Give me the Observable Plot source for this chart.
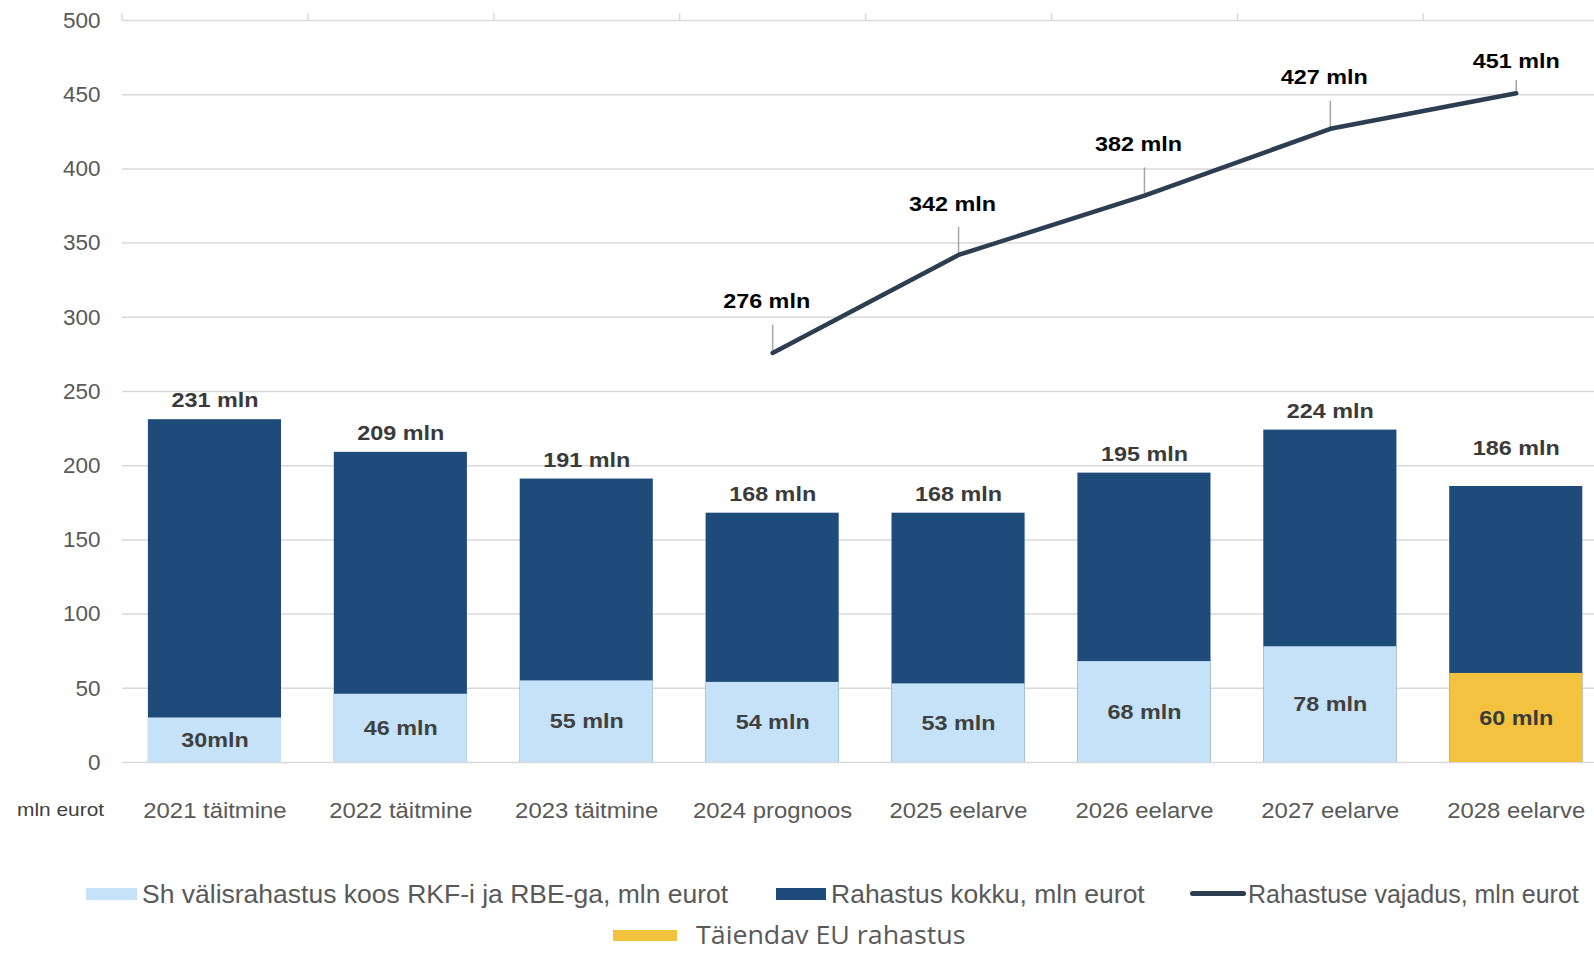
<!DOCTYPE html>
<html>
<head>
<meta charset="utf-8">
<script src="https://cdn.jsdelivr.net/npm/d3@7"></script>
<script src="https://cdn.jsdelivr.net/npm/@observablehq/plot@0.6"></script>
<style>
  html, body { margin: 0; padding: 0; background: #fff; overflow: hidden; }
  body { font-family: "Liberation Sans", Arial, sans-serif; width: 1594px; height: 954px; position: relative; }
  #chart { position: absolute; left: 0; top: 0; }
  .unit { position: absolute; left: 17px; top: 798px; font-size: 19px; line-height: 24px; color: #404040; transform: scaleX(1.1); transform-origin: left center; }
  .sw { position: absolute; }
  .lt { position: absolute; font-size: 25px; line-height: 30px; color: #595959; white-space: nowrap; transform: scaleX(1.06); transform-origin: left center; }
</style>
</head>
<body>
<div id="chart"></div>
<div class="unit">mln eurot</div>
<div class="sw" style="left:86px; top:888px; width:51px; height:12px; background:#c5e2f8;"></div>
<div class="lt" style="left:142px; top:879px;">Sh välisrahastus koos RKF-i ja RBE-ga, mln eurot</div>
<div class="sw" style="left:776px; top:888px; width:50px; height:12px; background:#1f4b7a;"></div>
<div class="lt" style="left:831px; top:879px;">Rahastus kokku, mln eurot</div>
<div class="sw" style="left:1190px; top:891px; width:56px; height:5px; border-radius:3px; background:#2c3e50;"></div>
<div class="lt" style="left:1248px; top:879px; transform:none;">Rahastuse vajadus, mln eurot</div>
<div class="sw" style="left:613px; top:930px; width:64px; height:11px; background:#f3c340;"></div>
<div class="lt" style="left:696px; top:921px; font-family:'Open Sans', sans-serif; font-size:26px; line-height:26px; transform:scaleX(1.03);">Täiendav EU rahastus</div>
<script>
const categories = ["2021 täitmine", "2022 täitmine", "2023 täitmine", "2024 prognoos", "2025 eelarve", "2026 eelarve", "2027 eelarve", "2028 eelarve"];
const totalFunding = [231, 209, 191, 168, 168, 195, 224, 186];
const externalFunding = [30, 46, 55, 54, 53, 68, 78, null];
const externalLabels = ["30mln", "46 mln", "55 mln", "54 mln", "53 mln", "68 mln", "78 mln", null];
const euExtraFunding = [null, null, null, null, null, null, null, 60];
const needCategories = ["2024 prognoos", "2025 eelarve", "2026 eelarve", "2027 eelarve", "2028 eelarve"];
const fundingNeed = [276, 342, 382, 427, 451];
const yTicks = [0, 50, 100, 150, 200, 250, 300, 350, 400, 450, 500];

const totals = categories.map((c, i) => ({cat: c, v: totalFunding[i], eu: euExtraFunding[i] != null}));
const external = categories.map((c, i) => ({cat: c, v: externalFunding[i], label: externalLabels[i]})).filter(d => d.v != null);
const euExtra = categories.map((c, i) => ({cat: c, v: euExtraFunding[i]})).filter(d => d.v != null);
const need = needCategories.map((c, i) => ({cat: c, v: fundingNeed[i], last: i === needCategories.length - 1}));

const labelFont = {fontSize: 20.5, fontWeight: "bold"};

const chart = Plot.plot({
  width: 1594,
  height: 830,
  marginLeft: 122,
  marginRight: 0,
  marginTop: 20,
  marginBottom: 68,
  style: {fontFamily: "'Liberation Sans', Arial, sans-serif", background: "#fff"},
  x: {domain: categories, range: [121.5, 1608.7], round: false, paddingInner: 0.284, paddingOuter: 0.142, label: null},
  y: {domain: [0, 500], label: null},
  marks: [
    Plot.ruleY(yTicks, {stroke: "#d9d9d9", strokeWidth: 1.5}),
    Plot.ruleX(categories, {x: d => d, y1: 500, y2: 504.5, dx: -92.95, stroke: "#d9d9d9", strokeWidth: 1.5}),
    Plot.axisY({ticks: yTicks, tickSize: 0, tickPadding: 22, fontSize: 22.5, color: "#595959", label: null}),
    Plot.axisX({tickSize: 0, tickPadding: 40, fontSize: 21.5, color: "#595959", label: null}),
    Plot.barY(totals, {x: "cat", y: "v", fill: "#1f4b7a"}),
    Plot.barY(external, {x: "cat", y: "v", fill: "#c5e2f8"}),
    Plot.barY(euExtra, {x: "cat", y: "v", fill: "#f3c340"}),
    Plot.text(totals, {filter: d => !d.eu, x: "cat", y: "v", text: d => `${d.v} mln`, dy: -19, ...labelFont, fill: "#3a3a3a"}),
    Plot.text(totals, {filter: d => d.eu, x: "cat", y: "v", text: d => `${d.v} mln`, dy: -38, ...labelFont, fill: "#3a3a3a"}),
    Plot.text(external, {x: "cat", y: d => d.v / 2, text: "label", ...labelFont, fill: "#404040"}),
    Plot.text(euExtra, {x: "cat", y: d => d.v / 2, text: d => `${d.v} mln`, ...labelFont, fill: "#3a3a3a"}),
    Plot.link(need, {filter: d => !d.last, x1: "cat", x2: "cat", y1: "v", y2: d => d.v + 19, stroke: "#a6a6a6", strokeWidth: 1.5}),
    Plot.link(need, {filter: d => d.last, x1: "cat", x2: "cat", y1: "v", y2: d => d.v + 9, stroke: "#a6a6a6", strokeWidth: 1.5}),
    Plot.line(need, {x: "cat", y: "v", stroke: "#2c3e50", strokeWidth: 4.5, strokeLinecap: "round", strokeLinejoin: "round"}),
    Plot.text(need, {filter: d => !d.last, x: "cat", y: "v", text: d => `${d.v} mln`, dy: -51, dx: -6, ...labelFont, fill: "#000"}),
    Plot.text(need, {filter: d => d.last, x: "cat", y: "v", text: d => `${d.v} mln`, dy: -32, ...labelFont, fill: "#000"})
  ]
});
document.getElementById("chart").appendChild(chart);

// horizontal glyph stretch to match the reference's wide rendering
function stretch(selector, k) {
  chart.querySelectorAll(selector).forEach(t => {
    const L = t.getComputedTextLength();
    if (L > 0) {
      t.setAttribute("textLength", L * k);
      t.setAttribute("lengthAdjust", "spacingAndGlyphs");
    }
  });
}
stretch('g[aria-label="x-axis tick label"] text', 1.11);
stretch('g[aria-label="text"] text', 1.14);
</script>
</body>
</html>
